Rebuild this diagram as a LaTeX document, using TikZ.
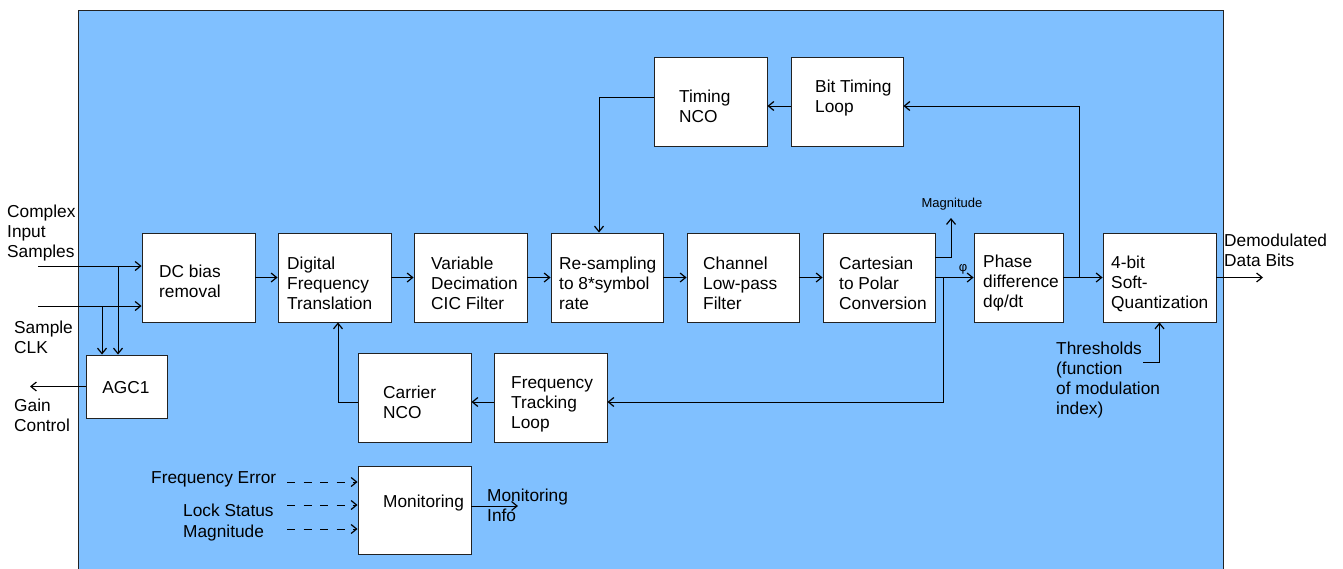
\documentclass[tikz,border=0pt]{standalone}
\usepackage{fontspec}
\setmainfont{Liberation Sans}
\usetikzlibrary{arrows.meta,calc}
\definecolor{panelblue}{RGB}{128,192,255}
\definecolor{ink}{RGB}{34,34,34}
\begin{document}
\begin{tikzpicture}[x=1pt,y=-1pt,
  box/.style={draw=ink,line width=0.9pt,fill=white,inner sep=0pt},
  txt/.style={inner sep=0pt,anchor=west,align=left,text=black,
    font=\fontsize{17.3}{20}\selectfont},
  small/.style={inner sep=0pt,text=black,font=\fontsize{13}{15}\selectfont},
  arr/.style={draw=black,line width=0.9pt,-{Straight Barb[length=5.5pt,width=9pt,line width=1.2pt]}},
  dsh/.style={arr,dash pattern=on 8pt off 8.5pt}]
\useasboundingbox (0,0) rectangle (1343,568);

% blue panel, open at the bottom
\fill[panelblue] (78,10) rectangle (1223,580);
\draw[ink,line width=1pt] (78,580) -- (78,10) -- (1223,10) -- (1223,580);

% processing blocks
\node[box,minimum width=113pt,minimum height=89pt] (dc)   at (198.5,277.5) {};
\node[box,minimum width=81pt, minimum height=63pt] (agc)  at (126.5,386.5) {};
\node[box,minimum width=113pt,minimum height=89pt] (dft)  at (334.5,277.5) {};
\node[box,minimum width=113pt,minimum height=89pt] (vdc)  at (470.5,277.5) {};
\node[box,minimum width=112pt,minimum height=89pt] (rs)   at (607,277.5) {};
\node[box,minimum width=112pt,minimum height=89pt] (lpf)  at (743,277.5) {};
\node[box,minimum width=112pt,minimum height=89pt] (c2p)  at (879,277.5) {};
\node[box,minimum width=89pt, minimum height=89pt] (pd)   at (1018.5,277.5) {};
\node[box,minimum width=113pt,minimum height=89pt] (sq)   at (1159.5,277.5) {};
\node[box,minimum width=113pt,minimum height=89pt] (cnco) at (414.5,397.5) {};
\node[box,minimum width=113pt,minimum height=89pt] (ftl)  at (550.5,397.5) {};
\node[box,minimum width=113pt,minimum height=89pt] (tnco) at (710.5,101.5) {};
\node[box,minimum width=112pt,minimum height=89pt] (btl)  at (847,101.5) {};
\node[box,minimum width=113pt,minimum height=88pt] (mon)  at (414.5,510) {};

% block captions
\node[txt] (dc-t)   at (159,281.5) {DC bias\\removal};
\node[txt,anchor=center] (agc-t) at (126,388) {AGC1};
\node[txt] (dft-t)  at (287,283.5) {Digital\\Frequency\\Translation};
\node[txt] (vdc-t)  at (431,283.5) {Variable\\Decimation\\CIC Filter};
\node[txt] (rs-t)   at (559,283.5) {Re-sampling\\to 8*symbol\\rate};
\node[txt] (lpf-t)  at (703,283.5) {Channel\\Low-pass\\Filter};
\node[txt] (c2p-t)  at (839,283.5) {Cartesian\\to Polar\\Conversion};
\node[txt] (pd-t)   at (983,283.5) {Phase\\difference\\dφ/dt};
\node[txt] (sq-t)   at (1111,283.5) {4-bit\\Soft-\\Quantization};
\node[txt] (cnco-t) at (383,402)   {Carrier\\NCO};
\node[txt] (ftl-t)  at (511,404)   {Frequency\\Tracking\\Loop};
\node[txt] (tnco-t) at (679,106)   {Timing\\NCO};
\node[txt] (btl-t)  at (815,98)    {Bit Timing\\Loop};
\node[txt] (mon-t)  at (383,503.5) {Monitoring};

% external signal labels
\node[txt] (in-l)   at (7,233)     {Complex\\Input\\Samples};
\node[txt] (clk-l)  at (14,337)    {Sample\\CLK};
\node[txt] (gain-l) at (14,415)    {Gain\\Control};
\node[txt] (out-l)  at (1224,250)  {Demodulated\\Data Bits};
\node[txt] (thr-l)  at (1056,380)  {Thresholds\\(function\\of modulation\\index)};
\node[txt] (fe-l)   at (151,479.5) {Frequency Error};
\node[txt] (ls-l)   at (183,510.5) {Lock Status};
\node[txt] (mg-l)   at (183,533.5) {Magnitude};
\node[txt] (mi-l)   at (487,505)   {Monitoring\\Info};
\node[small] (mag-l) at (952,204)  {Magnitude};
\node[small] (phi-l) at (963,269)  {φ};

% free ends and junctions
\coordinate (cin)   at (38,266);
\coordinate (clk)   at (38,306);
\coordinate (j1)    at (118,266);
\coordinate (j2)    at (102,306);
\coordinate (gout)  at (30,386.5);
\coordinate (magup) at (951,218);
\coordinate (br1)   at (943,277.5);
\coordinate (br2)   at (1079,277.5);
\coordinate (dout)  at (1263,277.5);
\coordinate (thrs)  at (1143,362);
\coordinate (fe)    at (287,482);
\coordinate (ls)    at (287,505);
\coordinate (mg)    at (287,529);
\coordinate (mout)  at (518,506);

% inputs and AGC
\draw[arr] (cin) -- (cin -| dc.west);
\draw[arr] (clk) -- (clk -| dc.west);
\draw[arr] (j1) -- (j1 |- agc.north);
\draw[arr] (j2) -- (j2 |- agc.north);
\draw[arr] (agc.west) -- (gout);

% main signal chain
\draw[arr] (dc.east) -- (dft.west);
\draw[arr] (dft.east) -- (vdc.west);
\draw[arr] (vdc.east) -- (rs.west);
\draw[arr] (rs.east) -- (lpf.west);
\draw[arr] (lpf.east) -- (c2p.west);
\draw[arr] (c2p.east) -- (pd.west);
\draw[arr] (pd.east) -- (sq.west);
\draw[arr] (sq.east) -- (dout);
\draw[arr] ($(c2p.east)+(0,-20.5)$) -| (magup);

% carrier recovery loop
\draw[arr] (br1) |- ($(ftl.east)+(0,4.5)$);
\draw[arr] ($(ftl.west)+(0,4.5)$) -- ($(cnco.east)+(0,4.5)$);
\draw[arr] ($(cnco.west)+(0,4.5)$) -| ($(dft.south)+(3.5,0)$);

% symbol timing loop
\draw[arr] (br2) |- ($(btl.east)+(0,4.5)$);
\draw[arr] ($(btl.west)+(0,4.5)$) -- ($(tnco.east)+(0,4.5)$);
\draw[arr] ($(tnco.west)+(0,-4.5)$) -| ($(rs.north)+(-8,0)$);

% quantizer thresholds
\draw[arr] (thrs) -| (sq.south);

% monitoring
\draw[dsh] (fe) -- (fe -| mon.west);
\draw[dsh] (ls) -- (ls -| mon.west);
\draw[dsh] (mg) -- (mg -| mon.west);
\draw[arr] (mout -| mon.east) -- (mout);
\end{tikzpicture}
\end{document}
